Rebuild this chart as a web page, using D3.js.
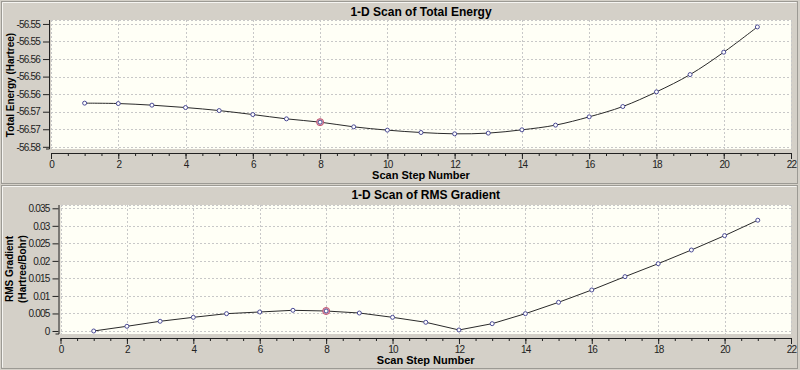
<!DOCTYPE html>
<html><head><meta charset="utf-8">
<script src="https://cdn.jsdelivr.net/npm/d3@7"></script>
<style>body{margin:0;background:#d4d0c8} svg{display:block}</style>
</head><body><svg id="c" width="800" height="370"></svg>
<script>
// ---------------- data ----------------
const steps = [1,2,3,4,5,6,7,8,9,10,11,12,13,14,15,16,17,18,19,20,21];
const energy = [-56.56605,-56.56614,-56.56651,-56.56705,-56.56774,-56.56865,-56.56963,-56.57038,-56.57145,-56.57220,-56.57274,-56.57304,-56.57288,-56.57213,-56.57106,-56.56917,-56.56682,-56.56348,-56.55954,-56.55444,-56.54868];
const gradient = [0.0000,0.00134,0.00277,0.0039,0.00494,0.00542,0.0059,0.0057,0.00513,0.0039,0.00248,0.00029,0.00209,0.00494,0.00818,0.0117,0.0155,0.0192,0.0231,0.0272,0.0316];
const energyTicks = [-56.548,-56.552,-56.556,-56.560,-56.564,-56.568,-56.572,-56.576];
const gradientTicks = [0,0.005,0.01,0.015,0.02,0.025,0.03,0.035];
const xTicks = [0,2,4,6,8,10,12,14,16,18,20,22];
const xMinorTicks = [0,0.5,1,1.5,2,2.5,3,3.5,4,4.5,5,5.5,6,6.5,7,7.5,8,8.5,9,9.5,10,10.5,11,11.5,12,12.5,13,13.5,14,14.5,15,15.5,16,16.5,17,17.5,18,18.5,19,19.5,20,20.5,21,21.5,22];
const selectedStep = 8;
const titles = ["1-D Scan of Total Energy","1-D Scan of RMS Gradient"];
const xTitle = "Scan Step Number";
const yTitles = [["Total Energy (Hartree)"],["RMS Gradient","(Hartree/Bohr)"]];

// ---------------- layout ----------------
const panels = [
  {values: energy, ticks: energyTicks, fmt: d => d.toFixed(2), domain: [-56.5765,-56.5471], curve: d3.curveCatmullRom,
   y0: 1, y1: 183, titleY: 15.5, left: 51, right: 791, top: 20, bottom: 149, axisX: 153, axisY: 49,
   yTitleX: [14], yTitleY: 85},
  {values: gradient, ticks: gradientTicks, fmt: d => d === 0 ? "0" : String(+d.toFixed(3)), domain: [-0.00086,0.03594], curve: d3.curveLinear,
   y0: 185, y1: 368, titleY: 199, left: 60.5, right: 791, top: 205, bottom: 334, axisX: 338, axisY: 58.5,
   yTitleX: [13, 26], yTitleY: 269}
];

const svg = d3.select("#c");
const font = "'Liberation Sans', Arial, sans-serif";

panels.forEach((p, i) => {
  const g = svg.append("g");
  // panel frame
  g.append("rect").attr("x", 1.5).attr("y", p.y0 + 0.5).attr("width", 796).attr("height", p.y1 - p.y0)
    .attr("fill", "#d4d0c8").attr("stroke", "#9c9a94").attr("stroke-width", 1);
  g.append("path").attr("d", `M2.5,${p.y1 - 0.5}V${p.y0 + 1.5}H796.5`).attr("fill", "none").attr("stroke", "#f6f5f2");

  const x = d3.scaleLinear().domain([0, 22]).range([p.left, p.right]);
  const y = d3.scaleLinear().domain(p.domain).range([p.bottom, p.top]);

  // plot area
  g.append("rect").attr("x", p.left).attr("y", p.top).attr("width", p.right - p.left).attr("height", p.bottom - p.top)
    .attr("fill", "#fffff6");

  // grid
  const grid = g.append("g").attr("stroke", "#c8c8c8").attr("stroke-dasharray", "2,2").attr("stroke-width", 1).attr("shape-rendering", "crispEdges");
  xTicks.forEach(t => grid.append("line").attr("x1", Math.round(x(t)) + 0.5).attr("x2", Math.round(x(t)) + 0.5).attr("y1", p.top).attr("y2", p.bottom));
  p.ticks.forEach(t => grid.append("line").attr("y1", Math.round(y(t)) + 0.5).attr("y2", Math.round(y(t)) + 0.5).attr("x1", p.left).attr("x2", p.right));
  grid.append("line").attr("x1", p.left).attr("x2", p.right).attr("y1", p.top + 0.5).attr("y2", p.top + 0.5);

  // y axis
  const ya = g.append("g").attr("transform", `translate(${p.axisY},0)`)
    .call(d3.axisLeft(y).tickValues(p.ticks).tickFormat(p.fmt).tickSize(6).tickSizeOuter(0).tickPadding(3));
  ya.select(".domain").attr("d", `M0.5,${p.top}V${p.bottom}H-3`).attr("stroke", "#222");
  ya.selectAll(".tick line").attr("stroke", "#222");
  ya.selectAll("text").attr("font-family", font).attr("font-size", 10).attr("letter-spacing", "-0.8px").attr("fill", "#222");

  // x axis minor
  const xm = g.append("g").attr("transform", `translate(0,${p.axisX})`)
    .call(d3.axisBottom(x).tickValues(xMinorTicks).tickFormat("").tickSize(3).tickSizeOuter(0));
  xm.select(".domain").attr("stroke", "#222");
  xm.selectAll(".tick line").attr("stroke", "#222");
  // x axis major
  const xa = g.append("g").attr("transform", `translate(0,${p.axisX})`)
    .call(d3.axisBottom(x).tickValues(xTicks).tickFormat(d3.format("d")).tickSize(6).tickSizeOuter(0).tickPadding(2));
  xa.select(".domain").remove();
  xa.selectAll(".tick line").attr("stroke", "#222");
  xa.selectAll("text").attr("font-family", font).attr("font-size", 10).attr("letter-spacing", "-0.8px").attr("fill", "#222");

  // titles
  g.append("text").attr("x", (p.left + p.right) / 2).attr("y", p.titleY).attr("text-anchor", "middle")
    .attr("font-family", font).attr("font-weight", "bold").attr("font-size", 12).text(titles[i]);
  g.append("text").attr("x", (p.left + p.right) / 2).attr("y", p.axisX + 26).attr("text-anchor", "middle")
    .attr("font-family", font).attr("font-weight", "bold").attr("font-size", 11).text(xTitle);
  yTitles[i].forEach((t, k) => {
    g.append("text").attr("transform", `translate(${p.yTitleX[k]},${p.yTitleY}) rotate(-90)`).attr("text-anchor", "middle")
      .attr("font-family", font).attr("font-weight", "bold").attr("font-size", 10).text(t);
  });

  // line
  const pts = steps.map((s, j) => [s, p.values[j]]);
  const line = d3.line().x(d => x(d[0])).y(d => y(d[1])).curve(p.curve);
  g.append("path").attr("d", line(pts)).attr("fill", "none").attr("stroke", "#2a2a2a").attr("stroke-width", 1);

  // selected point highlight
  const sj = steps.indexOf(selectedStep);
  g.append("circle").attr("cx", x(steps[sj])).attr("cy", y(p.values[sj])).attr("r", 3.5)
    .attr("fill", "#e6b4c4").attr("stroke", "#c0506c").attr("stroke-width", 1);

  // markers
  g.selectAll("circle.m").data(pts).join("circle").attr("class", "m")
    .attr("cx", d => x(d[0])).attr("cy", d => y(d[1])).attr("r", 2)
    .attr("fill", "#ffffff").attr("stroke", "#4a4a94").attr("stroke-width", 1);
});
</script></body></html>
